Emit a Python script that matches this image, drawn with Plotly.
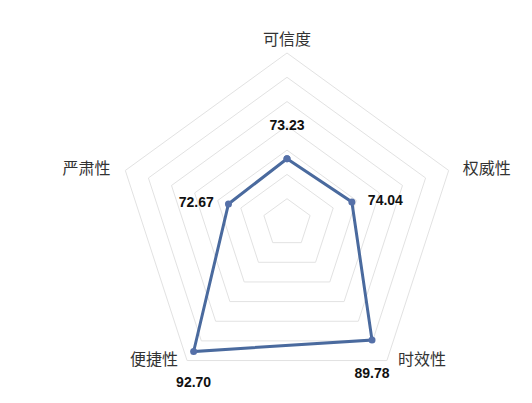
import plotly.graph_objects as go

# -----------------------------
# Data
# -----------------------------
categories = ["可信度", "权威性", "时效性", "便捷性", "严肃性"]
scores = [73.23, 74.04, 89.78, 92.70, 72.67]
score_labels = ["73.23", "74.04", "89.78", "92.70", "72.67"]
r_min, r_max = 60, 95

# label placement around each point (position + spacer size)
label_pos = ["top center", "middle right", "bottom center", "bottom center", "middle left"]
label_gap = [38, 24, 42, 38, 22]

# category names sit just outside the outer ring
cat_pos = ["top center", "middle right", "middle right", "middle left", "middle left"]
cat_gap = [5, 21, 16, 13, 22]

line_color = "#4a6a9e"
grid_color = "#e2e2e2"

fig = go.Figure()

# closed outline
fig.add_trace(go.Scatterpolar(
    r=scores + scores[:1],
    theta=categories + categories[:1],
    mode="lines+markers",
    line=dict(color=line_color, width=3),
    marker=dict(size=7, color="#5570a8"),
    showlegend=False,
    hoverinfo="skip",
))

# value labels
fig.add_trace(go.Scatterpolar(
    r=scores,
    theta=categories,
    mode="markers+text",
    text=score_labels,
    textposition=label_pos,
    textfont=dict(family="Liberation Sans, Arial", size=14, color="#111111", weight="bold"),
    marker=dict(size=label_gap, opacity=0),
    cliponaxis=False,
    showlegend=False,
    hoverinfo="skip",
))

# category labels
fig.add_trace(go.Scatterpolar(
    r=[r_max] * len(categories),
    theta=categories,
    mode="markers+text",
    text=categories,
    textposition=cat_pos,
    textfont=dict(family="Noto Sans CJK SC", size=16, color="#333333"),
    marker=dict(size=cat_gap, opacity=0),
    cliponaxis=False,
    showlegend=False,
    hoverinfo="skip",
))

fig.update_layout(
    width=532,
    height=403,
    margin=dict(l=0, r=0, t=0, b=0),
    paper_bgcolor="white",
    plot_bgcolor="white",
    polar=dict(
        domain=dict(x=[117 / 532, 457 / 532], y=[10 / 403, 350 / 403]),
        bgcolor="white",
        gridshape="linear",
        radialaxis=dict(
            range=[r_min, r_max],
            tick0=r_min,
            dtick=5,
            showticklabels=False,
            ticks="",
            showline=False,
            gridcolor=grid_color,
            gridwidth=1,
        ),
        angularaxis=dict(
            rotation=90,
            direction="clockwise",
            showgrid=False,
            showticklabels=False,
            linecolor=grid_color,
            linewidth=1,
            ticks="",
        ),
    ),
)

# page body has a default 8px margin; drop it so the figure sits at 0,0
fig.write_html(
    "out.html",
    config={"displayModeBar": False},
    post_script="document.body.style.margin='0';",
)
